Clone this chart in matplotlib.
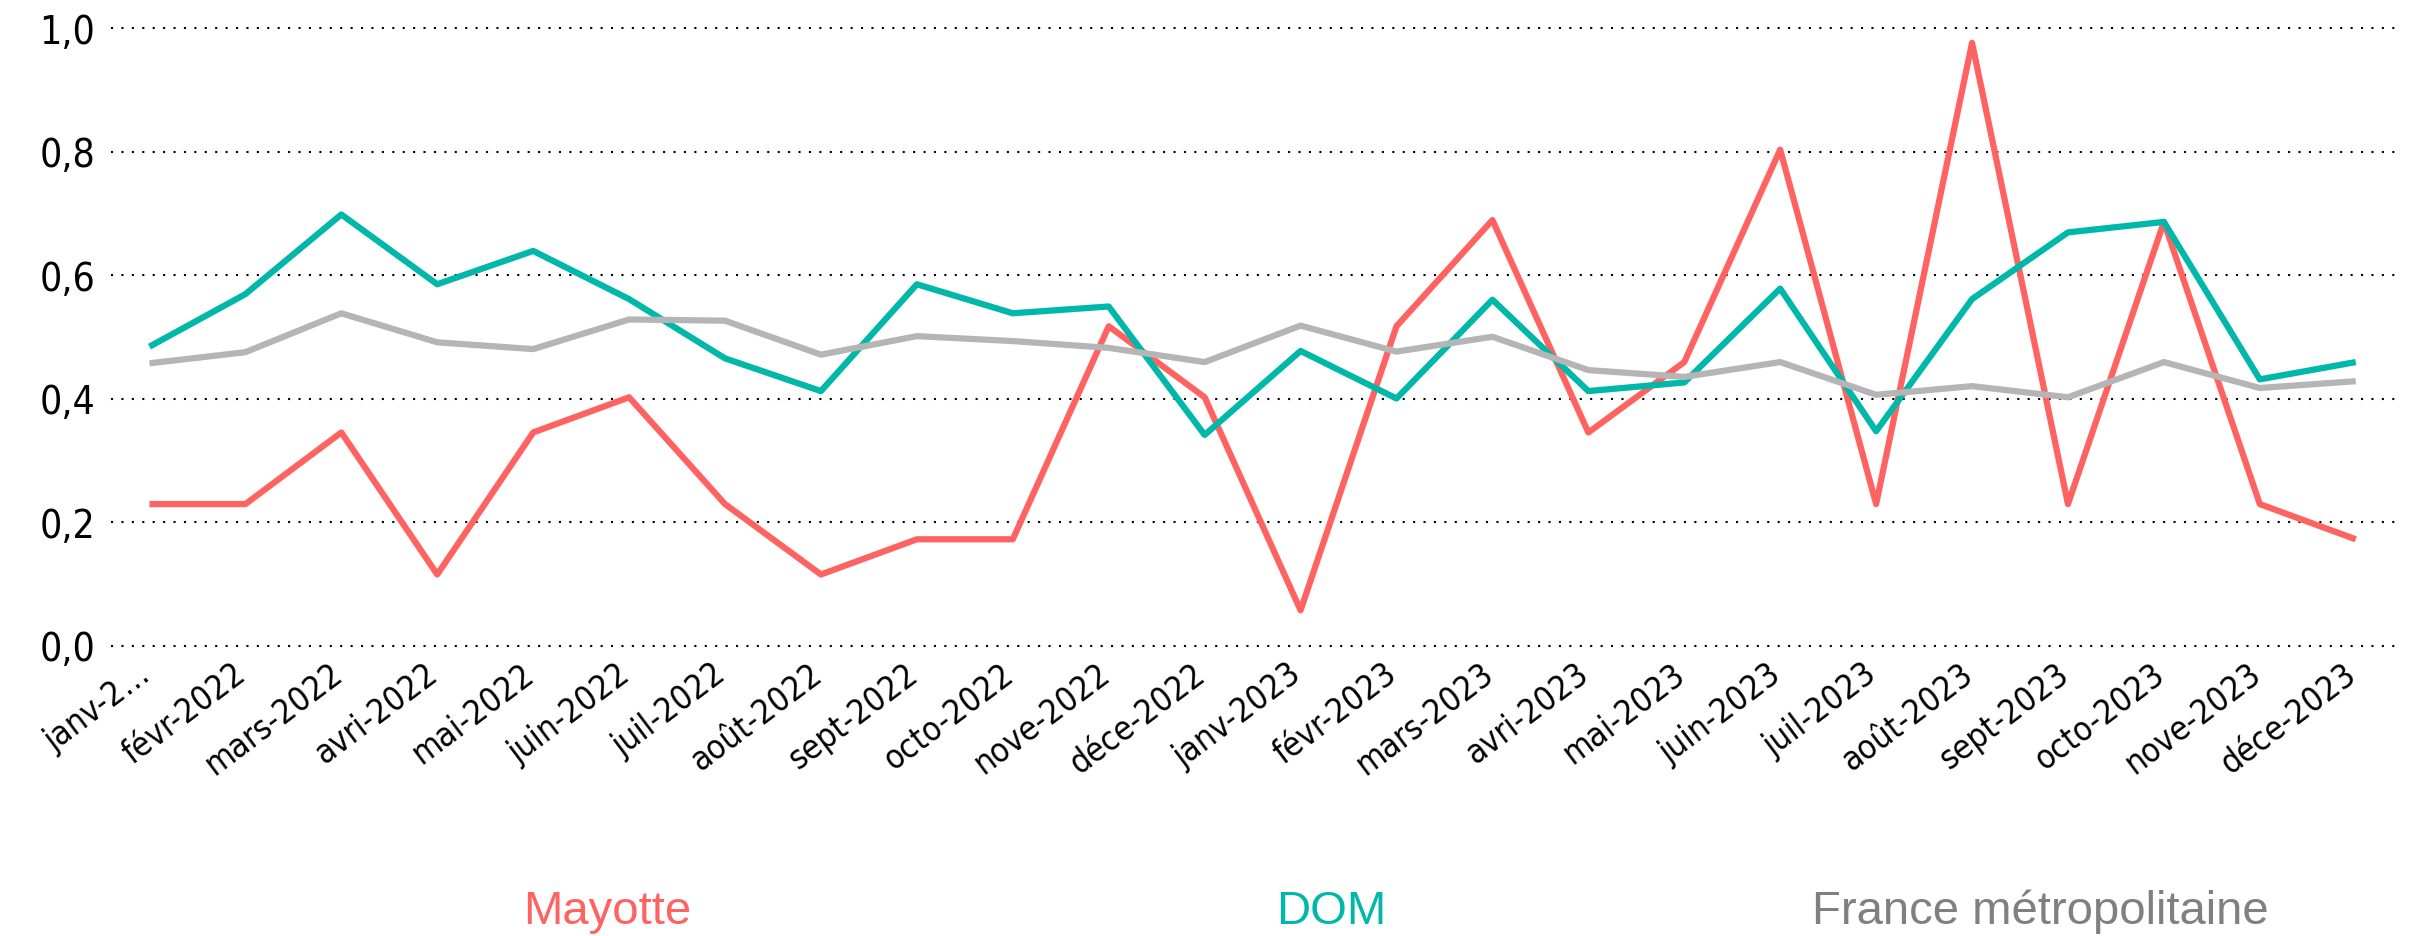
import matplotlib
matplotlib.use("Agg")
import matplotlib.pyplot as plt
from matplotlib.ticker import FuncFormatter, FixedLocator
from matplotlib import font_manager
from matplotlib.font_manager import FontProperties
from matplotlib.transforms import ScaledTranslation
import os

months = ["janv-2…", "févr-2022", "mars-2022", "avri-2022", "mai-2022", "juin-2022",
          "juil-2022", "août-2022", "sept-2022", "octo-2022", "nove-2022", "déce-2022",
          "janv-2023", "févr-2023", "mars-2023", "avri-2023", "mai-2023", "juin-2023",
          "juil-2023", "août-2023", "sept-2023", "octo-2023", "nove-2023", "déce-2023"]

mayotte = [0.229, 0.229, 0.345, 0.115, 0.345, 0.402, 0.229, 0.115, 0.172, 0.172, 0.517, 0.402,
           0.057, 0.517, 0.689, 0.345, 0.459, 0.803, 0.229, 0.976, 0.229, 0.686, 0.229, 0.172]
dom = [0.484, 0.569, 0.698, 0.585, 0.639, 0.561, 0.465, 0.412, 0.585, 0.538, 0.549, 0.341,
       0.477, 0.400, 0.560, 0.412, 0.426, 0.578, 0.347, 0.561, 0.669, 0.686, 0.431, 0.459]
france = [0.457, 0.475, 0.538, 0.491, 0.480, 0.528, 0.526, 0.471, 0.501, 0.493, 0.482, 0.459,
          0.518, 0.476, 0.500, 0.446, 0.435, 0.459, 0.406, 0.420, 0.402, 0.459, 0.417, 0.428]

series_names = ["Mayotte", "DOM", "France métropolitaine"]
line_colors = ["#FF6361", "#00B8A9", "#B5B5B5"]
text_colors = ["#FF6361", "#00B8A9", "#808080"]
yticks = [0.0, 0.2, 0.4, 0.6, 0.8, 1.0]

# Tahoma-like narrow face: DejaVu Sans Condensed if installed
cond_path = None
for f in font_manager.fontManager.ttflist:
    if os.path.basename(f.fname) == "DejaVuSansCondensed.ttf":
        cond_path = f.fname
        break
if cond_path:
    ytick_fp = FontProperties(fname=cond_path, size=28)
    xtick_fp = FontProperties(fname=cond_path, size=24)
else:
    ytick_fp = FontProperties(family="Liberation Sans", size=25)
    xtick_fp = FontProperties(family="Liberation Sans", size=22)

W, H = 2416, 937
fig = plt.figure(figsize=(W / 100, H / 100), dpi=100)
ax = fig.add_axes([111 / W, 1 - 646.5 / H, (2397 - 111) / W, (646.5 - 29) / H])

x = list(range(len(months)))
for vals, c in zip([mayotte, dom, france], line_colors):
    ax.plot(x, vals, color=c, lw=4.5, clip_on=False, solid_capstyle="butt", zorder=3)

ax.set_xlim(-0.401, 23.43)
ax.set_ylim(0, 1)
ax.yaxis.set_major_locator(FixedLocator(yticks))
ax.yaxis.set_major_formatter(FuncFormatter(lambda v, _: f"{v:.1f}".replace(".", ",")))
ax.yaxis.grid(True, color="black", linestyle=(0, (1, 4)), linewidth=1.5, zorder=0)
ax.set_axisbelow(True)
for gl in ax.get_ygridlines():
    gl.set_clip_on(False)
for s in ax.spines.values():
    s.set_visible(False)
ax.tick_params(axis="both", length=0)
ax.tick_params(axis="y", pad=11.5)
ax.tick_params(axis="x", pad=8)
ax.set_xticks(x)
ax.set_xticklabels(months, rotation=37, ha="right", va="top", rotation_mode="anchor")
for lab in ax.get_yticklabels():
    lab.set_fontproperties(ytick_fp)
for lab in ax.get_xticklabels():
    lab.set_fontproperties(xtick_fp)
shift = ScaledTranslation(-13 / 100, 0, fig.dpi_scale_trans)
for lab in ax.get_xticklabels():
    lab.set_transform(lab.get_transform() + shift)

centers = [607, 1331, 2040]
for name, c, cx in zip(series_names, text_colors, centers):
    fig.text(cx / W, 1 - 924 / H, name, color=c, fontsize=34, ha="center", va="baseline",
             family=["Liberation Sans", "DejaVu Sans"])

fig.savefig("out.png", dpi=100)
